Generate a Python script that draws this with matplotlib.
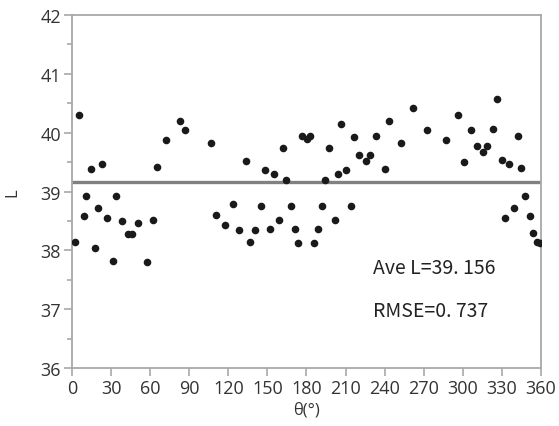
import matplotlib
matplotlib.use('Agg')
import matplotlib.pyplot as plt
from matplotlib.ticker import MultipleLocator

# 角度 (deg) と L 値
theta = [2.0, 5.4, 9.0, 11.0, 14.3, 17.7, 20.2, 23.3, 26.9, 31.2,
         33.8, 38.1, 42.7, 46.3, 50.4, 57.3, 61.9, 65.2, 71.9, 83.2,
         86.7, 106.9, 110.3, 117.2, 123.8, 128.2, 133.8, 136.4, 140.7, 145.3,
         148.4, 152.0, 155.3, 158.9, 162.0, 164.3, 167.8, 170.9, 173.5, 176.5,
         180.1, 182.7, 185.8, 189.1, 191.6, 194.2, 197.3, 201.6, 203.9, 206.2,
         210.5, 213.9, 216.2, 220.5, 225.4, 228.7, 233.1, 240.0, 243.3, 252.3,
         261.5, 272.5, 287.1, 296.0, 300.9, 306.3, 310.9, 315.5, 318.8, 323.4,
         326.5, 330.1, 332.4, 335.7, 339.0, 342.6, 344.9, 348.0, 351.5, 353.9,
         357.0, 359.5]
L = [38.15, 40.30, 38.58, 38.92, 39.39, 38.04, 38.72, 39.47, 38.55, 37.82,
     38.92, 38.50, 38.27, 38.27, 38.47, 37.80, 38.52, 39.42, 39.87, 40.20,
     40.05, 39.82, 38.60, 38.43, 38.78, 38.35, 39.52, 38.15, 38.35, 38.75,
     39.37, 38.37, 39.29, 38.52, 39.74, 39.20, 38.75, 38.37, 38.12, 39.95,
     39.89, 39.95, 38.12, 38.37, 38.75, 39.20, 39.74, 38.52, 39.29, 40.15,
     39.37, 38.75, 39.92, 39.62, 39.52, 39.62, 39.94, 39.39, 40.20, 39.82,
     40.42, 40.05, 39.87, 40.30, 39.50, 40.05, 39.77, 39.68, 39.77, 40.07,
     40.57, 39.53, 38.55, 39.47, 38.72, 39.94, 39.40, 38.92, 38.58, 38.30,
     38.15, 38.12]

AVE_L = 39.156
RMSE = 0.737
X_TICKS = [0, 30, 60, 90, 120, 150, 180, 210, 240, 270, 300, 330, 360]
Y_TICKS = [36, 37, 38, 39, 40, 41, 42]

GRAY = '#a8a8a8'

fig = plt.figure(figsize=(5.59, 4.27), dpi=100)
ax = fig.add_axes([0.1288, 0.1358, 0.8390, 0.8267])

ax.scatter(theta, L, s=30, color='#1a1a1a', zorder=3, clip_on=True, linewidths=0)
ax.axhline(AVE_L, color='#808080', linewidth=2.4, zorder=2)

ax.set_xlim(0, 360)
ax.set_ylim(36, 42)
ax.set_xticks(X_TICKS)
ax.set_yticks(Y_TICKS)
ax.yaxis.set_minor_locator(MultipleLocator(0.5))

for sp in ax.spines.values():
    sp.set_color(GRAY)
    sp.set_linewidth(1.3)

ax.tick_params(axis='both', which='major', length=6, width=1.2, color=GRAY,
               labelsize=13, labelcolor='#333333', pad=2)
ax.tick_params(axis='y', which='minor', length=3.5, width=1.2, color=GRAY)
for lab in ax.get_xticklabels() + ax.get_yticklabels():
    lab.set_family('Open Sans')

ax.set_xlabel('θ(°)', fontsize=12, color='#333333', family='Open Sans', labelpad=3)
ax.set_ylabel('L', fontsize=12, color='#333333', family='Open Sans', labelpad=14)

ax.text(0.642, 0.286, 'Ave L=39. 156', transform=ax.transAxes, fontsize=14,
        color='#222222', family=['Noto Sans CJK JP', 'DejaVu Sans'], va='center', ha='left')
ax.text(0.642, 0.164, 'RMSE=0. 737', transform=ax.transAxes, fontsize=14,
        color='#222222', family=['Noto Sans CJK JP', 'DejaVu Sans'], va='center', ha='left')

fig.savefig('out.png', dpi=100)
